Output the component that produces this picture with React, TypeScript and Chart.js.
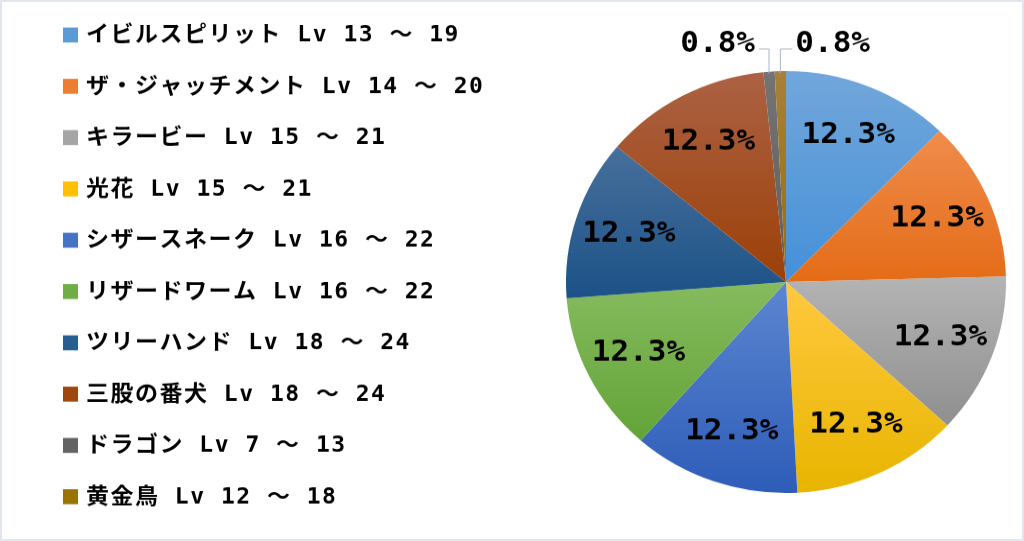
import React, { useEffect, useRef } from "react";
import { Chart, registerables } from "chart.js";

Chart.register(...registerables);

// ---- data ----
const categories: string[] = [
  "イビルスピリット Lv 13 ～ 19",
  "ザ・ジャッチメント Lv 14 ～ 20",
  "キラービー Lv 15 ～ 21",
  "光花 Lv 15 ～ 21",
  "シザースネーク Lv 16 ～ 22",
  "リザードワーム Lv 16 ～ 22",
  "ツリーハンド Lv 18 ～ 24",
  "三股の番犬 Lv 18 ～ 24",
  "ドラゴン Lv 7 ～ 13",
  "黄金鳥 Lv 12 ～ 18",
];
const values: number[] = [15, 15, 15, 15, 15, 15, 15, 15, 1, 1];

// ---- styles ----
const baseColors: string[] = [
  "#5b9bd5", "#ed7d31", "#a5a5a5", "#ffc000", "#4472c4",
  "#70ad47", "#255e91", "#9e480e", "#636363", "#997300",
];
const topColors: string[] = [
  "#72a7db", "#f08c4c", "#b4b4b4", "#ffc93f", "#5c86d0",
  "#86bb5e", "#47709c", "#ac6244", "#747474", "#a8803a",
];
const bottomColors: string[] = [
  "#4590d9", "#e46c17", "#8f8f8f", "#e8b500", "#2e5db9",
  "#63a438", "#1c5287", "#9c4008", "#5e5e5e", "#94700d",
];

const CSS_W = 1020;
const CSS_H = 537;
const INT_H = 560; // internal canvas height (vertical squash like reference)
const PIE_RADIUS = 220;
const FONT_STACK = "'DejaVu Sans Mono', 'Noto Sans CJK JP', sans-serif";

function drawSpaced(ctx: CanvasRenderingContext2D, text: string, x: number, y: number, spacing: number) {
  let cx = x;
  for (const ch of Array.from(text)) {
    ctx.fillText(ch, cx, y);
    cx += ctx.measureText(ch).width + spacing;
  }
}

function sliceGradient(context: any) {
  const chart = context.chart;
  const area = chart.chartArea;
  const i = context.dataIndex;
  if (!area || i === undefined) return baseColors[i ?? 0];
  const data = chart.data.datasets[0].data as number[];
  const total = data.reduce((a, b) => a + b, 0);
  let before = 0;
  for (let k = 0; k < i; k++) before += data[k];
  const a0 = -Math.PI / 2 + (before / total) * Math.PI * 2;
  const a1 = a0 + (data[i] / total) * Math.PI * 2;
  const cy = (area.top + area.bottom) / 2;
  let ymin = cy;
  let ymax = cy;
  for (const a of [a0, a1]) {
    const y = cy + PIE_RADIUS * Math.sin(a);
    ymin = Math.min(ymin, y);
    ymax = Math.max(ymax, y);
  }
  if (a0 <= Math.PI / 2 && a1 >= Math.PI / 2) ymax = cy + PIE_RADIUS;
  if (a0 <= (3 * Math.PI) / 2 && a1 >= (3 * Math.PI) / 2) ymin = cy - PIE_RADIUS;
  if (ymax - ymin < 1) ymax = ymin + 1;
  const g = chart.ctx.createLinearGradient(0, ymin, 0, ymax);
  g.addColorStop(0, topColors[i]);
  g.addColorStop(1, bottomColors[i]);
  return g;
}

const sliceLabelPlugin = {
  id: "sliceLabels",
  afterDatasetsDraw(chart: any) {
    const meta = chart.getDatasetMeta(0);
    const ctx = chart.ctx as CanvasRenderingContext2D;
    const data = chart.data.datasets[0].data as number[];
    const total = data.reduce((a, b) => a + b, 0);
    ctx.save();
    ctx.font = `bold 31px ${FONT_STACK}`;
    ctx.fillStyle = "#000000";
    const small: any[] = [];
    meta.data.forEach((arc: any, i: number) => {
      const p = arc.getProps(["x", "y", "startAngle", "endAngle", "outerRadius"], true);
      const pct = (data[i] / total) * 100;
      const text = pct.toFixed(1) + "%";
      const mid = (p.startAngle + p.endAngle) / 2;
      if (pct >= 5) {
        ctx.textAlign = "center";
        ctx.textBaseline = "middle";
        const r = p.outerRadius * 0.75;
        ctx.fillText(text, p.x + Math.cos(mid) * r, p.y + Math.sin(mid) * r);
      } else {
        small.push({ p, mid, text });
      }
    });
    small.forEach((s, k) => {
      const { p, mid, text } = s;
      const ax = p.x + Math.cos(mid) * p.outerRadius;
      const ay = p.y + Math.sin(mid) * p.outerRadius;
      const ey = p.y - p.outerRadius - 23;
      const left = k === 0;
      const ex = left ? ax - 10 : ax + 12;
      ctx.strokeStyle = "#aab6c6";
      ctx.lineWidth = 1;
      ctx.beginPath();
      ctx.moveTo(ax, ay + 2);
      ctx.lineTo(ax, ey);
      ctx.lineTo(ex, ey);
      ctx.stroke();
      ctx.textBaseline = "middle";
      ctx.textAlign = left ? "right" : "left";
      ctx.fillText(text, left ? ex - 4 : ex + 3, ey - 5);
    });
    ctx.restore();
  },
};

const legendPlugin = {
  id: "leftLegend",
  afterDraw(chart: any) {
    const ctx = chart.ctx as CanvasRenderingContext2D;
    const labels = chart.data.labels as string[];
    ctx.save();
    ctx.font = `bold 23px ${FONT_STACK}`;
    ctx.textBaseline = "middle";
    ctx.textAlign = "left";
    labels.forEach((lab, i) => {
      const cy = 34.4 + i * 53.5;
      ctx.fillStyle = baseColors[i];
      ctx.fillRect(61, cy - 7.8, 15, 15.6);
      ctx.fillStyle = "#000000";
      drawSpaced(ctx, lab, 84, cy + 1, 1.5);
    });
    ctx.restore();
  },
};

export default function App() {
  const canvasRef = useRef<HTMLCanvasElement | null>(null);

  useEffect(() => {
    if (!canvasRef.current) return;
    const chart = new Chart(canvasRef.current, {
      type: "pie",
      data: {
        labels: categories,
        datasets: [
          {
            data: values,
            backgroundColor: sliceGradient as any,
            borderWidth: 0,
            radius: PIE_RADIUS,
          } as any,
        ],
      },
      options: {
        responsive: false,
        animation: false,
        devicePixelRatio: 1,
        layout: { padding: { left: 548, right: 0, top: 24, bottom: 0 } },
        plugins: {
          legend: { display: false },
          tooltip: { enabled: false },
          title: { display: false },
        },
      },
      plugins: [sliceLabelPlugin, legendPlugin],
    });
    return () => chart.destroy();
  }, []);

  return (
    <div
      style={{
        position: "fixed",
        left: 0,
        top: 0,
        width: 1024,
        height: 541,
        boxSizing: "border-box",
        border: "2px solid #e1e6ec",
        background: "#ffffff",
      }}
    >
      <canvas
        ref={canvasRef}
        width={CSS_W}
        height={INT_H}
        style={{ width: `${CSS_W}px`, height: `${CSS_H}px`, display: "block" }}
      />
    </div>
  );
}
